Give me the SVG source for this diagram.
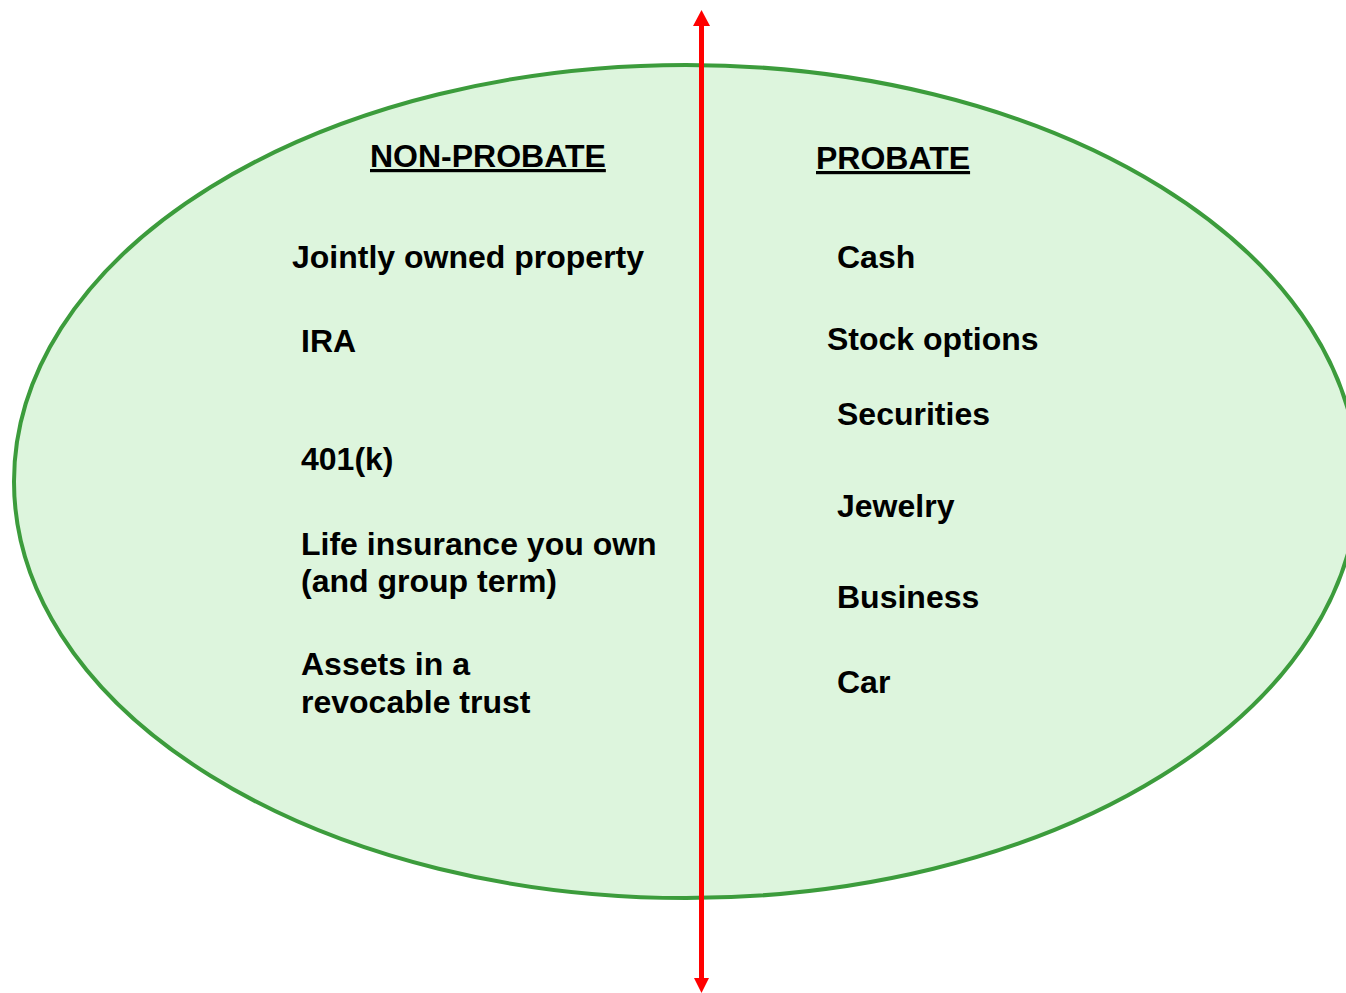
<svg xmlns="http://www.w3.org/2000/svg" width="1346" height="993" viewBox="0 0 1346 993">
  <style>
    .lbl { font-family: "Liberation Sans", Arial, sans-serif; font-weight: bold; font-size: 32px; fill: #000; }
    .head { text-decoration: underline; }
  </style>
  <rect width="1346" height="993" fill="#ffffff"/>

  <!-- estate oval -->
  <g id="estate">
    <ellipse cx="686" cy="481.5" rx="672" ry="416.5" fill="#ddf5dd" stroke="#3c9c3c" stroke-width="4"/>
  </g>

  <!-- left side: non-probate assets -->
  <g id="non-probate">
    <text class="lbl head" x="370" y="167">NON-PROBATE</text>
    <text class="lbl" x="292" y="268">Jointly owned property</text>
    <text class="lbl" x="301" y="352">IRA</text>
    <text class="lbl" x="301" y="470">401(k)</text>
    <text class="lbl" x="301" y="555">Life insurance you own</text>
    <text class="lbl" x="301" y="592">(and group term)</text>
    <text class="lbl" x="301" y="675">Assets in a</text>
    <text class="lbl" x="301" y="713">revocable trust</text>
  </g>

  <!-- right side: probate assets -->
  <g id="probate">
    <text class="lbl head" x="816" y="169">PROBATE</text>
    <text class="lbl" x="837" y="268">Cash</text>
    <text class="lbl" x="827" y="350">Stock options</text>
    <text class="lbl" x="837" y="425">Securities</text>
    <text class="lbl" x="837" y="517">Jewelry</text>
    <text class="lbl" x="837" y="608">Business</text>
    <text class="lbl" x="837" y="693">Car</text>
  </g>

  <!-- dividing double arrow -->
  <g id="connectors">
    <line x1="701.5" y1="24" x2="701.5" y2="979" stroke="#ff0000" stroke-width="5"/>
    <path d="M701.5,10 L710,26 L693,26 Z" fill="#ff0000"/>
    <path d="M701.5,993 L709,978 L694,978 Z" fill="#ff0000"/>
  </g>
</svg>
